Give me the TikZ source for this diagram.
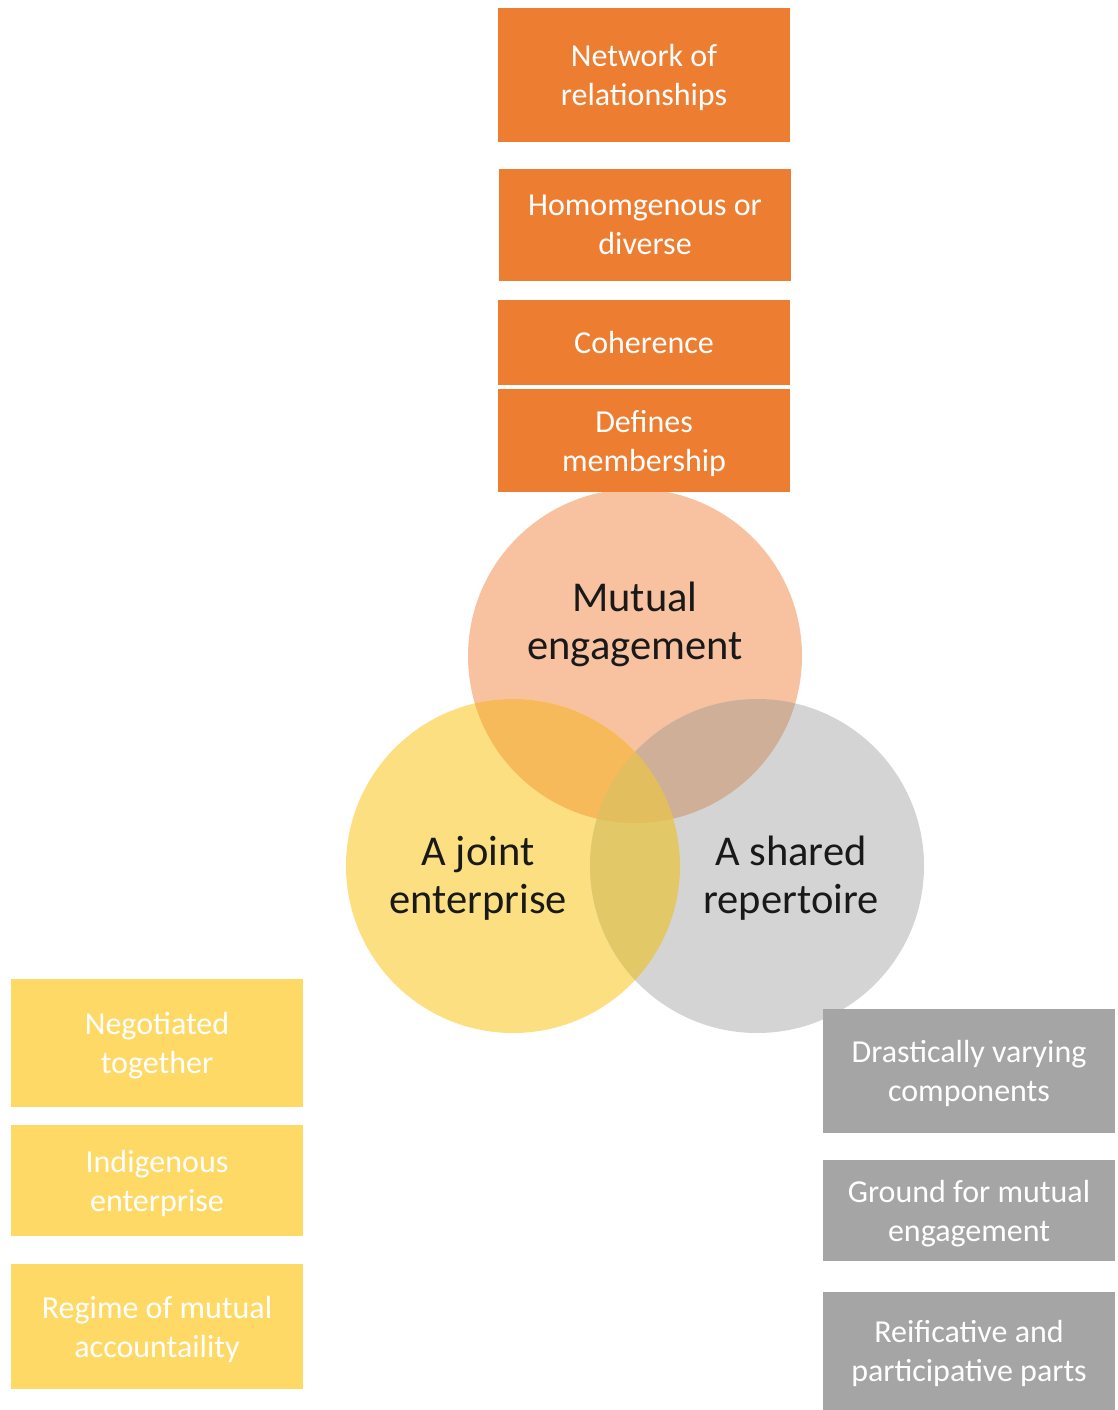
\documentclass[tikz,border=0pt]{standalone}
\usepackage{fontspec}
\setmainfont{Carlito}
\usetikzlibrary{backgrounds}

% box colours
\definecolor{orangebox}{HTML}{ED7D31}
\definecolor{yellowbox}{HTML}{FFD966}
\definecolor{graybox}{HTML}{A5A5A5}
% Venn circle colours and their overlaps
\definecolor{meC}{HTML}{F8C19F}
\definecolor{jeC}{HTML}{FBDF80}
\definecolor{srC}{HTML}{D4D4D4}
\definecolor{mejeC}{HTML}{F6BA5A}
\definecolor{mesrC}{HTML}{D0AF99}
\definecolor{jesrC}{HTML}{E2C866}
\definecolor{allC}{HTML}{E3BE5E}

\begin{document}
\begin{tikzpicture}[x=1pt,y=-1pt,
  box/.style={rectangle, inner sep=0pt, minimum width=292pt, text=white,
    align=center, text depth=0pt, font=\fontsize{32}{39}\selectfont},
  obox/.style={box, fill=orangebox},
  ybox/.style={box, fill=yellowbox},
  gbox/.style={box, fill=graybox},
  ring/.style={circle, inner sep=0pt, minimum size=334pt},
  bigtext/.style={align=center, text=black!90, text depth=0pt,
    font=\fontsize{42.5}{48}\selectfont}]

\useasboundingbox (0,0) rectangle (1118,1410);

% attributes of mutual engagement
\node[obox, minimum height=134pt] (net) at (644,75)    {Network of\\relationships};
\node[obox, minimum height=112pt] (hom) at (645,225)   {Homomgenous or\\diverse};
\node[obox, minimum height=85pt]  (coh) at (644,342.5) {Coherence};
\node[obox, minimum height=103pt] (def) at (644,440.5) {Defines\\membership};

% attributes of a joint enterprise
\node[ybox, minimum height=128pt] (neg) at (157,1043)   {Negotiated\\together};
\node[ybox, minimum height=111pt] (ind) at (157,1180.5) {Indigenous\\enterprise};
\node[ybox, minimum height=125pt] (reg) at (157,1326.5) {Regime of mutual\\accountaility};

% attributes of a shared repertoire
\node[gbox, minimum height=124pt] (dra) at (969,1071)   {Drastically varying\\components};
\node[gbox, minimum height=101pt] (gro) at (969,1210.5) {Ground for mutual\\engagement};
\node[gbox, minimum height=118pt] (rei) at (969,1351)   {Reificative and\\participative parts};

% the three circles
\node[ring] (me) at (635,656) {};
\node[ring] (je) at (513,866) {};
\node[ring] (sr) at (757,866) {};

\begin{pgfonlayer}{background}
  \fill[meC] (me.center) circle[radius=167pt];
  \fill[jeC] (je.center) circle[radius=167pt];
  \fill[srC] (sr.center) circle[radius=167pt];
  \begin{scope}
    \clip (me.center) circle[radius=167pt];
    \fill[mejeC] (je.center) circle[radius=167pt];
    \fill[mesrC] (sr.center) circle[radius=167pt];
  \end{scope}
  \begin{scope}
    \clip (je.center) circle[radius=167pt];
    \fill[jesrC] (sr.center) circle[radius=167pt];
    \clip (sr.center) circle[radius=167pt];
    \fill[allC] (me.center) circle[radius=167pt];
  \end{scope}
\end{pgfonlayer}

% circle labels
\node[bigtext] (metext) at (635,621) {Mutual\\engagement};
\node[bigtext] (jetext) at (478,875) {A joint\\enterprise};
\node[bigtext] (srtext) at (791,875) {A shared\\repertoire};
\end{tikzpicture}
\end{document}
